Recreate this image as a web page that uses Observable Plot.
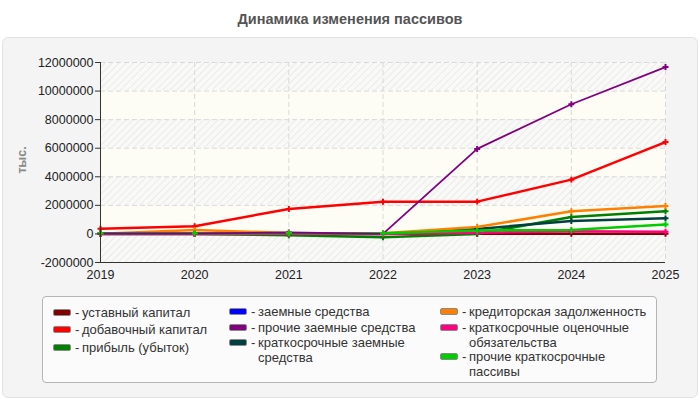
<!DOCTYPE html>
<html>
<head>
<meta charset="utf-8">
<script src="https://cdn.jsdelivr.net/npm/d3@7"></script>
<script src="https://cdn.jsdelivr.net/npm/@observablehq/plot@0.6"></script>
<style>
  html, body { margin: 0; padding: 0; background: #fff; }
  #root { position: relative; width: 700px; height: 400px; overflow: hidden; font-family: "Liberation Sans", Arial, sans-serif; }
  #title { position: absolute; left: 0; top: 11px; width: 700px; text-align: center; font-size: 14.5px; font-weight: bold; color: #555; }
  #panel { position: absolute; left: 2px; top: 37px; width: 694px; height: 359px; background: #f4f4f4; border: 1px solid #e2e2e2; border-radius: 6px; }
  #chart { position: absolute; left: 0; top: 40px; }
  #ylabel { position: absolute; left: 22px; top: 160px; transform: translate(-50%, -50%) rotate(-90deg); font-size: 12.5px; font-weight: bold; color: #888; white-space: nowrap; }
  #legend { position: absolute; left: 42px; top: 296px; width: 613px; height: 85px; background: #fbfbfb; border: 1px solid #b5b5b5; border-radius: 4px; }
  .item { position: absolute; display: flex; align-items: flex-start; font-size: 13px; color: #333; line-height: 15px; }
  .sw { display: inline-block; width: 16px; height: 5px; border: 1px solid #8a8a8a; border-radius: 2px; margin-top: 4px; }
  .dash { margin-left: 4px; width: 7px; }
  .txt { white-space: nowrap; }
</style>
</head>
<body>
<div id="root">
  <div id="title">Динамика изменения пассивов</div>
  <div id="panel"></div>
  <div id="chart"></div>
  <div id="ylabel">тыс.</div>
  <div id="legend"></div>
</div>
<script>
// ---- data ----
const years = [2019, 2020, 2021, 2022, 2023, 2024, 2025];
const yTicks = [-2000000, 0, 2000000, 4000000, 6000000, 8000000, 10000000, 12000000];

const seriesNames = [
  "уставный капитал",
  "добавочный капитал",
  "прибыль (убыток)",
  "заемные средства",
  "прочие заемные средства",
  "краткосрочные заемные средства",
  "кредиторская задолженность",
  "краткосрочные оценочные обязательства",
  "прочие краткосрочные пассивы"
];
const seriesColors = ["#800000", "#ff0000", "#008000", "#0000ff", "#800080", "#004040", "#ff8000", "#ff0080", "#00cc00"];

const ustavnyKapital      = [10000, 10000, 10000, 10000, 10000, 10000, 10000];
const dobavochnyKapital   = [360000, 540000, 1750000, 2250000, 2260000, 3800000, 6430000];
const pribyl              = [30000, 20000, -100000, -230000, 0, 1190000, 1590000];
const zaemnyeSredstva     = [null, null, null, null, null, null, null];
const prochieZaemnye      = [30000, 30000, 100000, 0, 5950000, 9080000, 11680000];
const kratkZaemnye        = [0, 0, 0, 0, 350000, 900000, 1090000];
const kreditorskaya       = [20000, 280000, 70000, 50000, 480000, 1590000, 1960000];
const ocenochnye          = [0, 0, 0, 0, 90000, 190000, 160000];
const prochieKratk        = [50000, 50000, 50000, 50000, 240000, 280000, 660000];

const seriesValues = [ustavnyKapital, dobavochnyKapital, pribyl, zaemnyeSredstva, prochieZaemnye, kratkZaemnye, kreditorskaya, ocenochnye, prochieKratk];

// legend text (with explicit wraps) and layout (swatch left, first-line centre)
const legendLines = [
  ["уставный капитал"],
  ["добавочный капитал"],
  ["прибыль (убыток)"],
  ["заемные средства"],
  ["прочие заемные средства"],
  ["краткосрочные заемные", "средства"],
  ["кредиторская задолженность"],
  ["краткосрочные оценочные", "обязательства"],
  ["прочие краткосрочные", "пассивы"]
];
const legendPos = [[53, 312], [53, 329], [53, 347], [229, 311], [229, 327], [229, 342], [440, 311], [440, 327], [440, 356]];

// ---- build table ----
const rows = seriesNames.flatMap((name, i) => years.map((yr, j) => ({series: name, year: yr, value: seriesValues[i][j]})))
  .filter(d => d.value !== null);
const bands = yTicks.slice(0, -1).map((t, i) => ({lo: t, hi: yTicks[i + 1], hatched: i % 2 === 0})).filter(d => d.hatched);

const chart = Plot.plot({
  width: 700,
  height: 245,
  marginLeft: 100,
  marginRight: 35,
  marginTop: 22,
  marginBottom: 23,
  style: {background: "transparent", fontFamily: "'Liberation Sans', Arial, sans-serif", fontSize: "12.5px", color: "#222", overflow: "visible"},
  x: {domain: [2019, 2025], ticks: years, tickFormat: "d", label: null},
  y: {domain: [-2000000, 12000000], ticks: yTicks, label: null},
  color: {domain: seriesNames, range: seriesColors},
  marks: [
    Plot.frame({fill: "#fdfdf6", stroke: null}),
    Plot.rect(bands, {y1: "lo", y2: "hi", fill: "url(#hatch)"}),
    Plot.gridY(yTicks, {stroke: "#d9d9d9", strokeOpacity: 1, strokeDasharray: "5,3"}),
    Plot.gridX(years, {stroke: "#d9d9d9", strokeOpacity: 1, strokeDasharray: "5,3"}),
    Plot.line(rows.filter(d => d.series !== "прочие заемные средства"), {x: "year", y: "value", z: "series", stroke: "series", strokeWidth: 2.5}),
    Plot.line(rows.filter(d => d.series === "прочие заемные средства"), {x: "year", y: "value", z: "series", stroke: "series", strokeWidth: 1.8}),
    Plot.dot(rows, {x: "year", y: "value", fill: "series", symbol: "cross", r: 2.5}),
    Plot.ruleX([2019], {stroke: "#333"}),
    Plot.ruleY([-2000000], {stroke: "#333"}),
    Plot.axisY(yTicks, {tickSize: 5, tickPadding: 2, tickFormat: d => String(d), stroke: "#333", label: null}),
    Plot.axisX(years, {tickSize: 0, tickPadding: 8, tickFormat: d => String(d), label: null})
  ]
});

d3.select(chart).insert("defs", ":first-child").html(
  '<pattern id="hatch" patternUnits="userSpaceOnUse" width="5" height="5" patternTransform="rotate(45)">' +
  '<rect width="5" height="5" fill="#f9f9f7"/>' +
  '<line x1="0" y1="0" x2="0" y2="5" stroke="#ebebeb" stroke-width="2"/></pattern>'
);
document.getElementById("chart").appendChild(chart);

// ---- legend ----
const legend = document.getElementById("legend");
seriesNames.forEach((name, i) => {
  const [lx, ly] = legendPos[i];
  const item = document.createElement("div");
  item.className = "item";
  item.style.left = (lx - 43) + "px";
  item.style.top = (ly - 297 - 7.5) + "px";
  const sw = document.createElement("span");
  sw.className = "sw";
  sw.style.background = seriesColors[i];
  const dash = document.createElement("span");
  dash.className = "dash";
  dash.textContent = "-";
  const txt = document.createElement("span");
  txt.className = "txt";
  txt.innerHTML = legendLines[i].join("<br>");
  item.append(sw, dash, txt);
  legend.appendChild(item);
});
</script>
</body>
</html>
